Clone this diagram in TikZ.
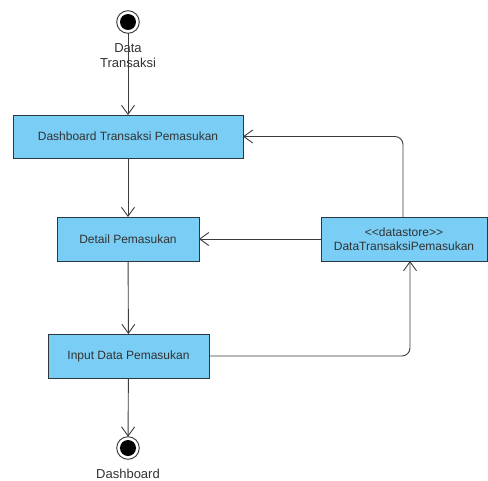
\documentclass[tikz,border=0pt]{standalone}
\usepackage{fontspec}
\setmainfont{Liberation Sans}
\usetikzlibrary{arrows.meta}
\usetikzlibrary{positioning}
\definecolor{actfill}{RGB}{122,206,245}
\definecolor{actline}{RGB}{45,55,62}
\definecolor{flowline}{RGB}{60,60,60}
\definecolor{txtgrey}{RGB}{50,50,50}

\tikzset{
  actbox/.style={draw=actline,fill=actfill,line width=1pt,inner sep=0pt,
    outer sep=0pt,text=txtgrey,font=\fontsize{12}{14.5}\selectfont,align=center},
  flow/.style={draw=flowline,line width=0.9pt,
    -{Straight Barb[length=9pt,width=13pt,line width=0.9pt]}},
  endpoint/.style={circle,draw=actline,line width=0.9pt,minimum size=22.6pt,
    inner sep=0pt,outer sep=0pt,fill=white,
    path picture={\fill[black] (path picture bounding box.center) circle (8pt);}},
  lbl/.style={text=txtgrey,font=\fontsize{13}{15}\selectfont,align=center,inner sep=0pt}
}

\begin{document}
\begin{tikzpicture}[x=1pt,y=-1pt]
  \useasboundingbox (0,0) rectangle (488,480);

  \node [endpoint] (start) at (128,22) {};
  \node [lbl] (startlbl) at (128,55.5) {Data\\Transaksi};

  \node [actbox,minimum width=230pt,minimum height=43pt] (dash) at (128,136.5)
  {Dashboard Transaksi Pemasukan};
  \node [actbox,minimum width=142pt,minimum height=44pt] (detail) at (128,239)
  {Detail Pemasukan};
  \node [actbox,minimum width=161pt,minimum height=44pt] (input) at (128.5,356)
  {Input Data Pemasukan};
  \node [actbox,minimum width=166pt,minimum height=44pt] (store) at (404,239)
  {<{}<datastore>{}>\\DataTransaksiPemasukan};

  \node [endpoint] (finish) at (128,448) {};
  \node [lbl] (finishlbl) at (128,474) {Dashboard};

  % main flow
  \draw [flow] (start) -- (dash);
  \draw [flow] (dash) -- (detail);
  \draw [flow] (detail) -- (input);
  \draw [flow] (input) -- (finish);

  % datastore links
  \draw [flow,rounded corners=8pt] ([xshift=-1pt]store.north) |- (dash.east);
  \draw [flow] (store.west) -- (detail.east);
  \draw [flow,rounded corners=8pt] (input.east) -| ([xshift=6pt]store.south);

\end{tikzpicture}
\end{document}
